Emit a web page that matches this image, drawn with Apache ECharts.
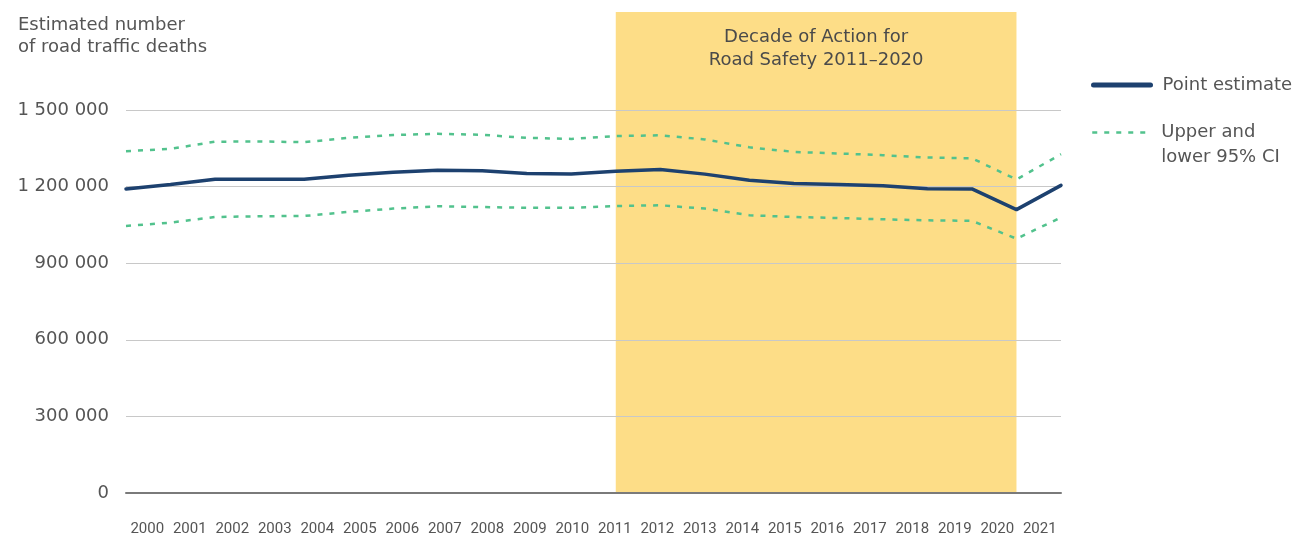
<!DOCTYPE html>
<html>
<head>
<meta charset="utf-8">
<script src="https://cdn.jsdelivr.net/npm/echarts@6/dist/echarts.min.js"></script>
<style>html,body{margin:0;padding:0;background:#fff;}#chart{width:1294px;height:539px;}</style>
</head>
<body>
<div id="chart"></div>
<script>
const years = ['2000','2001','2002','2003','2004','2005','2006','2007','2008','2009','2010','2011','2012','2013','2014','2015','2016','2017','2018','2019','2020','2021'];
const pointEstimate = [1191000,1208000,1229000,1229000,1229000,1245000,1256000,1264000,1262000,1251000,1249000,1260000,1267000,1249000,1225000,1212000,1208000,1203000,1192000,1191000,1110000,1205000];
const upperCI = [1339000,1348000,1376000,1377000,1374000,1391000,1402000,1407000,1403000,1391000,1387000,1398000,1401000,1385000,1354000,1336000,1330000,1323000,1314000,1311000,1228000,1327000];
const lowerCI = [1046000,1059000,1081000,1084000,1085000,1101000,1114000,1123000,1120000,1117000,1117000,1124000,1127000,1114000,1088000,1081000,1077000,1072000,1068000,1066000,996000,1079000];
const yTickMax = 1500000;
const decadeStart = '2011';
const decadeEnd = '2020';
const decadeLabel = 'Decade of Action for\nRoad Safety 2011–2020';
const yTitle = 'Estimated number\nof road traffic deaths';
const pointName = 'Point estimate';
const ciName = 'Upper and\nlower 95% CI';

const FONT = "'DejaVu Sans', sans-serif";
const TXT = '#555';
const GREEN = '#52c28d';
const NAVY = '#1d416f';

function fmt(v){
  if (v > yTickMax) return '';
  return String(v).replace(/\B(?=(\d{3})+(?!\d))/g, ' ');
}

const chart = echarts.init(document.getElementById('chart'), null, {renderer:'canvas'});
chart.setOption({
  animation: false,
  backgroundColor: '#fff',
  title: {
    text: yTitle, left: 18, top: 14, padding: 0,
    textStyle: {fontFamily: FONT, fontSize: 18, lineHeight: 22, fontWeight: 'normal', color: TXT}
  },
  legend: [
    {
      data: [{name: pointName}], orient: 'vertical', left: 1091, top: 74, padding: 0,
      itemWidth: 57, itemHeight: 14,
      itemStyle: {opacity: 0},
      lineStyle: {width: 5, cap: 'round'},
      textStyle: {fontFamily: FONT, fontSize: 18, lineHeight: 22, color: TXT, padding: [0,0,0,7]}
    },
    {
      data: [{name: ciName}], orient: 'vertical', left: 1091, top: 95, padding: 0,
      itemWidth: 57, itemHeight: 14,
      itemStyle: {opacity: 0},
      lineStyle: {width: 2.5},
      formatter: function(n){ return '\n' + n; },
      textStyle: {fontFamily: FONT, fontSize: 18, lineHeight: 25, color: TXT, padding: [0,0,0,7]}
    }
  ],
  grid: {left: 126, right: 233, top: 12, bottom: 46, containLabel: false},
  xAxis: [
    {
      type: 'category', data: years, boundaryGap: false, z: 4,
      axisLine: {lineStyle: {color: '#7a7a7a', width: 2}},
      axisTick: {show: false}, axisLabel: {show: false}, splitLine: {show: false}
    },
    {
      type: 'category', data: years, boundaryGap: true, position: 'bottom',
      axisLine: {show: false}, axisTick: {show: false},
      axisLabel: {interval: 0, margin: 29, fontFamily: 'Roboto, sans-serif', fontSize: 15, color: TXT}
    }
  ],
  yAxis: {
    type: 'value', min: 0, max: 1884000, interval: 300000, z: 2,
    axisLine: {show: false}, axisTick: {show: false},
    axisLabel: {formatter: fmt, margin: 17, fontFamily: FONT, fontSize: 18, color: TXT},
    splitLine: {lineStyle: {color: ['#c8c8c8','#c8c8c8','#c8c8c8','#c8c8c8','#c8c8c8','#c8c8c8','rgba(0,0,0,0)','rgba(0,0,0,0)'], width: 1.2}}
  },
  series: [
    {
      name: 'decade', type: 'line', data: [], z: 1, silent: true,
      markArea: {
        silent: true,
        itemStyle: {color: '#fddd87'},
        label: {show: true, position: 'insideTop', distance: 14, fontFamily: FONT, fontSize: 18, lineHeight: 23, color: '#4a4a4a', align: 'center'},
        data: [[{xAxis: decadeStart, name: decadeLabel}, {xAxis: decadeEnd}]]
      }
    },
    {
      name: ciName, type: 'line', data: upperCI, z: 5, symbol: 'none',
      lineStyle: {color: GREEN, width: 2.5, type: [5, 7]}, itemStyle: {color: GREEN}
    },
    {
      name: ciName, type: 'line', data: lowerCI, z: 5, symbol: 'none',
      lineStyle: {color: GREEN, width: 2.5, type: [5, 7]}, itemStyle: {color: GREEN}
    },
    {
      name: pointName, type: 'line', data: pointEstimate, z: 6, symbol: 'none',
      lineStyle: {color: NAVY, width: 3.5, cap: 'round'}, itemStyle: {color: NAVY}
    }
  ]
});
</script>
</body>
</html>
